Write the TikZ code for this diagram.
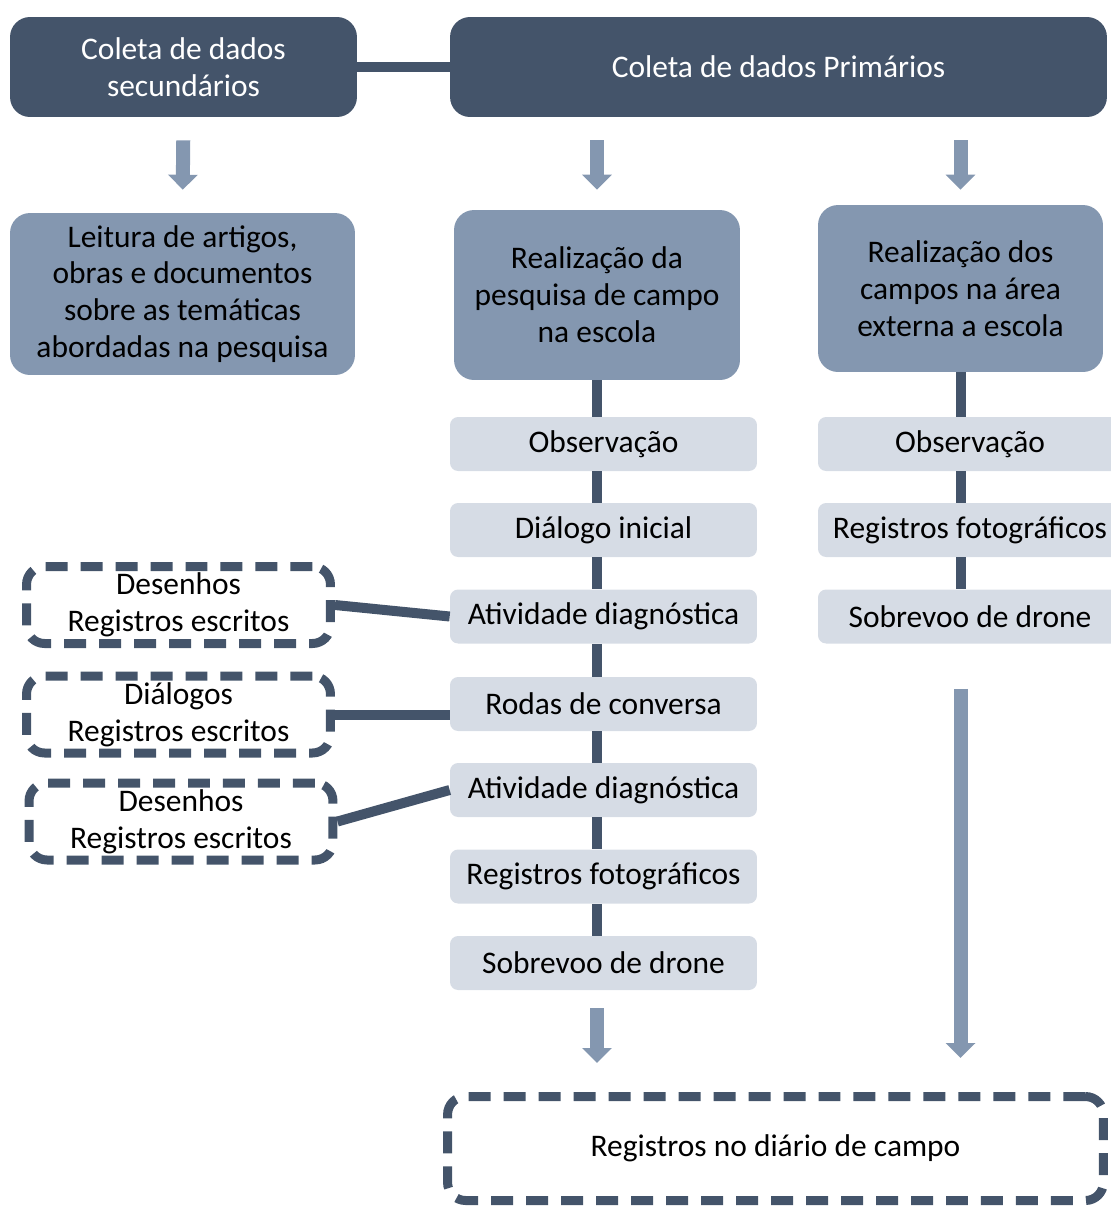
\documentclass[tikz,border=0pt]{standalone}
\usepackage{fontspec}
\setmainfont{Carlito}
\usetikzlibrary{arrows.meta}
\definecolor{escuro}{HTML}{44546A}
\definecolor{medio}{HTML}{8497B0}
\definecolor{claro}{HTML}{D6DCE5}
\begin{document}
\begin{tikzpicture}[x=0.02cm, y=-0.02cm,
    every node/.style={inner sep=0pt, align=center, font=\fontsize{17.9}{21}\selectfont},
    darkbox/.style={fill=escuro, text=white, rounded corners=0.4cm},
    midbox/.style={fill=medio, rounded corners=0.4cm},
    lightbox/.style={fill=claro, rounded corners=0.16cm, minimum height=1.08cm},
    dashbox/.style={draw=escuro, line width=0.18cm, dash pattern=on 0.44cm off 0.26cm,
      rounded corners=0.36cm, minimum width=6.08cm, minimum height=1.54cm},
    link/.style={draw=escuro, line width=0.2cm},
    downarrow/.style={draw=medio, line width=0.28cm, -{Triangle[width=0.58cm, length=0.3cm]}}]
  \useasboundingbox (0,0) rectangle (1111,1211);
  \clip (0,0) rectangle (1111,1211);

  % coleta
  \node[darkbox, minimum width=6.94cm, minimum height=2cm] (sec) at (183.5,67) {Coleta de dados\\secundários};
  \node[darkbox, minimum width=13.14cm, minimum height=2cm] (pri) at (778.5,67) {Coleta de dados Primários};
  \draw[link] (sec.east) -- (pri.west);

  \node[midbox, minimum width=6.9cm, minimum height=3.24cm] (leit) at (182.5,294)
    {Leitura de artigos,\\obras e documentos\\sobre as temáticas\\abordadas na pesquisa};
  \node[midbox, minimum width=5.72cm, minimum height=3.4cm] (esc) at (597,295)
    {Realização da\\pesquisa de campo\\na escola};
  \node[midbox, minimum width=5.7cm, minimum height=3.34cm] (camp) at (960.5,288.5)
    {Realização dos\\campos na área\\externa a escola};

  \draw[downarrow, shorten <=0.46cm, shorten >=0.46cm] (sec.south) -- (leit.north);
  \draw[downarrow, shorten <=0.46cm, shorten >=0.4cm] (pri.south -| esc.north) -- (esc.north);
  \draw[downarrow, shorten <=0.46cm, shorten >=0.3cm] (pri.south -| camp.north) -- (camp.north);

  % escola
  \node[lightbox, minimum width=6.14cm] (obs1) at (603.5,444) {Observação};
  \node[lightbox, minimum width=6.14cm] (dia) at (603.5,530) {Diálogo inicial};
  \node[lightbox, minimum width=6.14cm] (ativ1) at (603.5,616.5) {Atividade diagnóstica};
  \node[lightbox, minimum width=6.14cm] (rodas) at (603.5,704) {Rodas de conversa};
  \node[lightbox, minimum width=6.14cm] (ativ2) at (603.5,790) {Atividade diagnóstica};
  \node[lightbox, minimum width=6.14cm] (reg1) at (603.5,876.5) {Registros fotográficos};
  \node[lightbox, minimum width=6.14cm] (drone1) at (603.5,963) {Sobrevoo de drone};
  \draw[link] (esc.south) -- (esc.south |- obs1.north);
  \draw[link] (esc.south |- obs1.south) -- (esc.south |- dia.north);
  \draw[link] (esc.south |- dia.south) -- (esc.south |- ativ1.north);
  \draw[link] (esc.south |- ativ1.south) -- (esc.south |- rodas.north);
  \draw[link] (esc.south |- rodas.south) -- (esc.south |- ativ2.north);
  \draw[link] (esc.south |- ativ2.south) -- (esc.south |- reg1.north);
  \draw[link] (esc.south |- reg1.south) -- (esc.south |- drone1.north);

  \node[dashbox] (d1) at (178.5,605) {Desenhos\\Registros escritos};
  \node[dashbox] (d2) at (178.5,714.5) {Diálogos\\Registros escritos};
  \node[dashbox] (d3) at (181,821.5) {Desenhos\\Registros escritos};
  \draw[link] (d1.east) -- (ativ1.west);
  \draw[link] (d2.east) -- (rodas.west |- d2.east);
  \draw[link] (d3.east) -- (ativ2.west);

  % area externa
  \node[lightbox, minimum width=6.08cm] (obs2) at (970,444) {Observação};
  \node[lightbox, minimum width=6.08cm] (reg2) at (970,530) {Registros fotográficos};
  \node[lightbox, minimum width=6.08cm] (drone2) at (970,616.5) {Sobrevoo de drone};
  \draw[link] (camp.south) -- (camp.south |- obs2.north);
  \draw[link] (camp.south |- obs2.south) -- (camp.south |- reg2.north);
  \draw[link] (camp.south |- reg2.south) -- (camp.south |- drone2.north);

  % diario
  \node[dashbox, minimum width=13.12cm, minimum height=2.08cm] (diario) at (775.5,1148.5)
    {Registros no diário de campo};
  \draw[downarrow, shorten <=0.36cm, shorten >=0.58cm] (esc.south |- drone1.south) -- (esc.south |- diario.north);
  \draw[downarrow, shorten <=0.9cm, shorten >=0.68cm] (camp.south |- drone2.south) -- (camp.south |- diario.north);
\end{tikzpicture}
\end{document}
